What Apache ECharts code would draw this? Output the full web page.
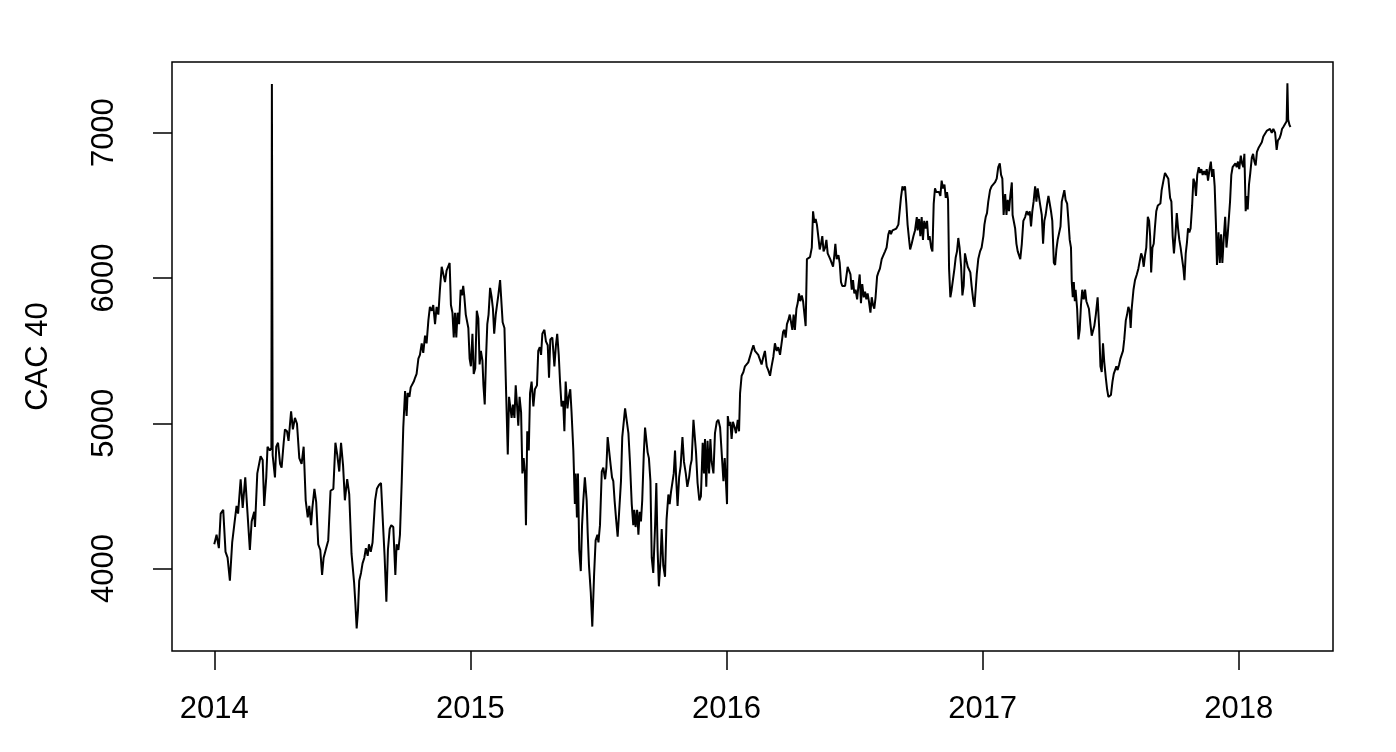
<!DOCTYPE html>
<html>
<head>
<meta charset="utf-8">
<script src="https://cdn.jsdelivr.net/npm/echarts@6/dist/echarts.min.js"></script>
<style>
html,body{margin:0;padding:0;background:#fff;}
#chart{width:1396px;height:752px;}
</style>
</head>
<body>
<div id="chart"></div>
<script>
const xTicks = [2014, 2015, 2016, 2017, 2018];
const yTicks = [4000, 5000, 6000, 7000];
const yTitle = 'CAC 40';

const years = [
2014.000,2014.009,2014.018,2014.025,2014.035,2014.044,2014.052,2014.061,2014.070,2014.078,
2014.087,2014.093,2014.103,2014.111,2014.121,2014.129,2014.139,2014.146,2014.156,2014.159,
2014.168,2014.175,2014.181,2014.189,2014.195,2014.203,2014.208,2014.217,2014.223,2014.225,
2014.228,2014.237,2014.242,2014.249,2014.257,2014.263,2014.271,2014.276,2014.284,2014.290,
2014.300,2014.307,2014.315,2014.323,2014.332,2014.341,2014.349,2014.357,2014.365,2014.371,
2014.378,2014.383,2014.391,2014.398,2014.406,2014.414,2014.421,2014.427,2014.435,2014.445,
2014.454,2014.465,2014.473,2014.480,2014.488,2014.495,2014.503,2014.510,2014.519,2014.527,
2014.536,2014.546,2014.551,2014.556,2014.561,2014.566,2014.573,2014.579,2014.586,2014.592,
2014.599,2014.604,2014.611,2014.618,2014.628,2014.635,2014.643,2014.651,2014.659,2014.665,
2014.672,2014.678,2014.685,2014.691,2014.699,2014.707,
2014.712,2014.719,2014.725,2014.732,2014.738,2014.745,2014.751,2014.755,2014.762,2014.767,
2014.773,2014.779,2014.784,2014.790,2014.797,2014.803,2014.810,2014.816,2014.823,2014.829,
2014.836,2014.842,2014.849,2014.855,2014.862,2014.868,2014.875,2014.881,2014.888,2014.894,
2014.901,2014.907,2014.914,2014.919,2014.924,2014.930,2014.935,2014.940,2014.945,2014.950,
2014.956,2014.962,2014.967,2014.972,2014.976,2014.982,2014.987,2014.992,2014.997,2015.002,
2015.008,2015.013,2015.019,2015.025,2015.031,2015.036,2015.041,2015.047,2015.051,2015.056,
2015.061,2015.066,2015.071,2015.077,2015.083,2015.088,2015.093,2015.099,2015.104,2015.109,
2015.116,2015.121,2015.126,2015.133,2015.140,2015.146,2015.151,2015.156,2015.161,2015.166,
2015.172,2015.177,2015.182,2015.187,2015.192,2015.198,2015.203,2015.208,2015.213,2015.217,
2015.222,2015.228,2015.233,2015.239,2015.246,2015.252,2015.260,2015.265,2015.271,2015.276,
2015.281,2015.289,2015.295,2015.302,2015.307,2015.312,2015.320,2015.328,2015.334,2015.339,
2015.345,2015.350,2015.356,2015.362,2015.367,2015.372,2015.379,2015.384,2015.390,2015.395,
2015.402,2015.408,2015.411,2015.416,2015.420,2015.425,2015.431,2015.436,2015.441,2015.447,
2015.454,2015.458,2015.463,2015.470,
2015.476,2015.483,2015.489,2015.496,2015.500,2015.506,2015.513,2015.519,2015.526,2015.531,
2015.536,2015.543,2015.548,2015.553,2015.558,2015.563,2015.569,2015.575,2015.582,2015.588,
2015.593,2015.599,2015.604,2015.610,2015.617,2015.623,2015.630,2015.636,2015.640,2015.645,
2015.651,2015.656,2015.661,2015.666,2015.671,2015.677,2015.682,2015.687,2015.692,2015.697,
2015.703,2015.708,2015.714,2015.721,2015.726,2015.731,2015.736,2015.742,2015.747,2015.753,
2015.760,2015.766,2015.773,2015.778,2015.783,2015.789,2015.794,2015.799,2015.804,2015.809,
2015.815,2015.821,2015.828,2015.834,2015.841,2015.847,2015.854,2015.859,2015.864,2015.871,
2015.876,2015.881,2015.887,2015.894,2015.900,2015.907,2015.912,2015.916,2015.921,2015.926,
2015.932,2015.937,2015.942,2015.949,2015.955,2015.962,2015.968,2015.975,2015.981,2015.988,
2015.993,2015.998,2016.002,2016.005,2016.010,2016.015,2016.020,2016.025,2016.032,2016.037,
2016.044,2016.049,2016.053,2016.059,2016.066,2016.072,2016.079,2016.085,2016.092,2016.098,
2016.105,2016.111,2016.118,2016.124,2016.131,2016.137,2016.144,2016.150,2016.157,2016.163,
2016.170,2016.176,2016.183,
2016.189,2016.196,2016.202,2016.209,2016.215,2016.221,2016.226,2016.231,2016.236,2016.241,
2016.247,2016.252,2016.257,2016.262,2016.267,2016.273,2016.278,2016.283,2016.288,2016.294,
2016.299,2016.304,2016.309,2016.314,2016.320,2016.326,2016.333,2016.338,2016.343,2016.348,
2016.353,2016.359,2016.364,2016.369,2016.374,2016.379,2016.385,2016.390,2016.395,2016.400,
2016.405,2016.411,2016.416,2016.421,2016.425,2016.430,2016.437,2016.442,2016.447,2016.452,
2016.458,2016.463,2016.468,2016.473,2016.478,2016.484,2016.489,2016.494,2016.499,2016.504,
2016.510,2016.515,2016.520,2016.525,2016.530,2016.536,2016.541,2016.546,2016.551,2016.556,
2016.562,2016.567,2016.572,2016.577,2016.582,2016.588,2016.593,2016.599,2016.606,2016.612,
2016.619,2016.625,2016.632,2016.637,2016.642,2016.648,2016.655,2016.663,2016.671,2016.677,
2016.681,2016.687,2016.692,2016.697,2016.702,2016.707,2016.713,2016.717,2016.723,2016.730,
2016.736,2016.743,2016.746,2016.752,2016.757,2016.762,2016.767,2016.772,2016.778,2016.783,
2016.788,2016.793,2016.799,2016.804,2016.809,2016.814,2016.819,2016.825,2016.830,2016.835,
2016.840,2016.845,2016.851,2016.856,2016.861,2016.865,2016.869,2016.874,2016.879,2016.884,
2016.890,2016.895,2016.900,2016.905,2016.910,2016.916,2016.921,2016.926,2016.931,2016.937,
2016.942,2016.947,2016.952,2016.957,2016.963,2016.968,
2016.977,2016.983,2016.990,2016.996,2017.003,2017.007,2017.012,2017.017,2017.022,2017.029,
2017.035,2017.042,2017.048,2017.055,2017.061,2017.067,2017.072,2017.077,2017.082,2017.088,
2017.093,2017.098,2017.103,2017.108,2017.114,2017.117,2017.123,2017.127,2017.132,2017.137,
2017.142,2017.147,2017.153,2017.159,2017.166,2017.172,2017.179,2017.184,2017.189,2017.194,
2017.199,2017.205,2017.210,2017.215,2017.220,2017.225,2017.231,2017.236,2017.241,2017.246,
2017.252,2017.257,2017.262,2017.267,2017.272,2017.278,2017.283,2017.288,2017.293,2017.298,
2017.304,2017.309,2017.314,2017.319,2017.324,2017.330,2017.335,2017.340,2017.345,2017.348,
2017.352,2017.356,2017.360,2017.363,2017.369,2017.374,2017.379,2017.384,2017.389,2017.395,
2017.400,2017.405,2017.410,2017.415,2017.421,2017.426,2017.431,2017.436,2017.442,2017.449,
2017.455,2017.460,2017.465,2017.470,2017.475,2017.481,2017.486,2017.491,2017.496,2017.501,
2017.507,2017.512,2017.517,2017.522,2017.527,2017.533,2017.538,2017.543,2017.548,2017.553,
2017.559,2017.564,2017.569,2017.574,2017.578,2017.582,2017.589,2017.595,2017.602,2017.608,
2017.615,2017.619,2017.624,2017.629,2017.634,2017.639,2017.645,2017.650,2017.654,2017.658,
2017.663,2017.668,2017.673,2017.678,2017.684,2017.689,2017.694,2017.699,2017.706,2017.712,
2017.719,2017.725,2017.732,2017.737,2017.742,2017.747,2017.753,2017.758,2017.763,2017.768,
2017.773,2017.779,2017.784,2017.788,2017.793,2017.798,2017.802,2017.807,2017.812,2017.818,
2017.823,2017.828,2017.833,2017.838,2017.844,2017.849,2017.854,2017.859,2017.865,2017.870,
2017.875,2017.880,2017.885,2017.891,2017.896,2017.901,2017.906,2017.911,2017.915,2017.921,
2017.926,2017.931,2017.936,2017.941,2017.947,2017.952,2017.957,2017.962,2017.966,2017.971,
2017.976,2017.982,2017.987,2017.992,2017.997,2018.002,2018.008,2018.013,2018.018,2018.022,
2018.027,2018.031,2018.035,2018.040,2018.045,2018.051,2018.056,2018.061,2018.066,2018.071,
2018.077,2018.083,2018.090,2018.096,2018.103,2018.109,2018.116,2018.122,2018.129,2018.135,
2018.142,2018.148,2018.153,2018.159,2018.164,2018.169,2018.174,2018.181,2018.187,2018.190,
2018.193,2018.198,2018.202
];

const cac40 = [
4167,4233,4141,4378,4404,4115,4075,3917,4180,4299,
4431,4378,4615,4418,4628,4404,4128,4325,4391,4286,
4655,4668,4773,4747,4431,4628,4839,4813,4830,7335,
4780,4628,4839,4866,4721,4694,4866,4958,4945,4879,
5082,4958,5037,4997,4760,4721,4839,4470,4352,4431,
4299,4418,4549,4457,4167,4128,3957,4075,4128,4194,
4536,4549,4866,4786,4668,4866,4707,4470,4615,4510,
4101,3904,3759,3588,3707,3917,3970,4036,4075,4141,
4088,4167,4115,4180,4470,4549,4575,4589,4299,4088,
3772,4128,4273,4299,4286,3957,
4167,4128,4233,4602,4971,5221,5050,5208,5182,5247,
5234,5287,5313,5340,5445,5471,5550,5484,5603,5550,
5708,5801,5774,5814,5682,5801,5748,5919,6077,6090,
5972,6051,6038,6103,5814,5761,5590,5761,5590,5761,
5682,5919,5880,5945,5880,5748,5735,5656,5445,5392,
5616,5340,5379,5774,5722,5405,5498,5432,5261,5129,
5445,5682,5748,5932,5867,5788,5616,5748,5814,5880,
5985,5985,5695,5656,5182,4786,5182,5195,5037,5129,
5037,5261,5129,4984,5182,5076,4655,4760,4655,4299,
4945,4813,5208,5287,5116,5234,5261,5498,5524,5471,
5616,5643,5564,5537,5313,5577,5590,5392,5537,5616,
5471,5287,5116,5155,4945,5287,5103,5182,5234,5076,
4813,4444,4655,4352,4655,4128,3983,4299,4470,4628,
4470,4246,4023,3838,
3601,3957,4194,4233,4180,4299,4668,4694,4615,4694,
4905,4905,4707,4628,4602,4470,4339,4220,4207,4602,
4905,4918,5103,5024,4932,4734,4444,4299,4404,4286,
4404,4233,4391,4325,4470,4786,4971,4984,4800,4760,
4602,4075,3970,4286,4589,4128,3878,4049,4273,4023,
3944,4339,4510,4444,4523,4523,4655,4813,4602,4431,
4628,4707,4905,4734,4655,4563,4628,4707,4747,5024,
5024,4800,4589,4470,4497,4866,4655,4892,4563,4879,
4655,4892,4734,4655,4932,5010,5024,4971,4958,4602,
4760,4589,4444,5050,4984,5010,4892,5010,4971,4932,
5024,4945,5208,5327,5353,5392,5405,5419,5432,5498,
5537,5498,5511,5471,5458,5405,5458,5498,5392,5366,
5327,5392,5458,
5550,5498,5524,5471,5458,5629,5643,5590,5682,5708,
5748,5735,5643,5748,5643,5788,5827,5893,5840,5880,
5840,5853,5669,6130,6143,6143,6209,6459,6380,6406,
6367,6275,6196,6235,6288,6183,6209,6262,6169,6156,
6130,6143,6077,6156,6235,6130,6156,6103,5972,5945,
5958,5945,6011,6077,6077,6024,5919,5985,5893,5919,
5853,5945,6024,5827,5958,5867,5906,5853,5893,5840,
5761,5867,5814,5788,5867,6011,6038,6064,6130,6143,
6183,6209,6301,6327,6301,6327,6327,6340,6367,6380,
6551,6630,6604,6630,6512,6367,6262,6196,6235,6288,
6327,6419,6327,6406,6288,6419,6262,6393,6340,6393,
6262,6288,6209,6183,6512,6617,6591,6604,6591,6564,
6670,6617,6643,6551,6591,6538,6064,5867,5919,5906,
6064,6143,6183,6275,6209,6077,5880,5945,6169,6117,
6077,6090,6038,5945,5853,5801,
6024,6130,6183,6209,6288,6367,6419,6446,6525,6604,
6630,6643,6657,6683,6762,6788,6709,6683,6433,6578,
6433,6538,6459,6564,6657,6433,6446,6340,6235,6183,
6196,6130,6235,6393,6419,6459,6433,6459,6354,6459,
6525,6630,6525,6617,6604,6499,6433,6235,6393,6433,
6512,6564,6551,6459,6393,6104,6090,6196,6262,6275,
6354,6525,6538,6604,6538,6512,6393,6262,6209,5972,
5867,5972,5840,5919,5788,5577,5643,5814,5919,5853,
5919,5840,5814,5788,5682,5603,5590,5669,5748,5867,
5656,5392,5353,5550,5419,5313,5234,5182,5182,5195,
5287,5340,5366,5392,5366,5405,5445,5458,5498,5577,
5708,5748,5801,5774,5656,5788,5919,5985,6024,6064,
6077,6169,6143,6077,6156,6209,6420,6393,6288,6038,
6209,6235,6354,6459,6499,6486,6512,6604,6670,6722,
6709,6683,6551,6525,6288,6169,6301,6446,6341,6262,
6209,6196,6064,5985,6169,6249,6341,6314,6340,6499,
6683,6657,6564,6709,6762,6722,6749,6709,6736,6709,
6749,6670,6736,6801,6696,6749,6630,6367,6090,6314,
6104,6301,6104,6262,6420,6209,6301,6288,6525,6709,
6762,6749,6788,6762,6801,6749,6841,6788,6762,6854,
6459,6564,6472,6643,6722,6828,6854,6801,6775,6867,
6894,6907,6933,6973,6986,7012,6999,7025,6999,7025,
6999,6881,6946,6960,6986,7025,7039,7052,7078,7340,
7090,7052,7039
];

const seriesData = years.map((y, i) => [y, cac40[i]]);

const FONT = '"Liberation Sans", Arial, Helvetica, sans-serif';
const chart = echarts.init(document.getElementById('chart'), null, {renderer: 'canvas'});
chart.setOption({
  animation: false,
  backgroundColor: '#ffffff',
  grid: {
    left: 172, top: 62, right: 63, bottom: 101,
    show: true, borderColor: '#000', borderWidth: 1.5, backgroundColor: 'transparent'
  },
  xAxis: {
    type: 'value',
    min: 2013.835, max: 2018.368,
    axisLine: {show: false},
    splitLine: {show: false},
    axisTick: {show: true, length: 19, lineStyle: {color: '#000', width: 1.5}, customValues: xTicks},
    axisLabel: {
      customValues: xTicks, color: '#000', fontSize: 31, fontFamily: FONT, margin: 43,
      formatter: v => String(v)
    }
  },
  yAxis: {
    type: 'value',
    min: 3433, max: 7486,
    axisLine: {show: false},
    splitLine: {show: false},
    axisTick: {show: true, length: 19, lineStyle: {color: '#000', width: 1.5}, customValues: yTicks},
    axisLabel: {
      customValues: yTicks, color: '#000', fontSize: 31, fontFamily: FONT, margin: 52, rotate: 90,
      formatter: v => String(v)
    },
    name: yTitle,
    nameLocation: 'middle',
    nameRotate: 90,
    nameGap: 118,
    nameTextStyle: {color: '#000', fontSize: 31, fontFamily: FONT}
  },
  series: [{
    type: 'line',
    data: seriesData,
    showSymbol: false,
    symbol: 'none',
    sampling: null,
    lineStyle: {color: '#000', width: 2},
    emphasis: {disabled: true}
  }]
});
</script>
</body>
</html>
